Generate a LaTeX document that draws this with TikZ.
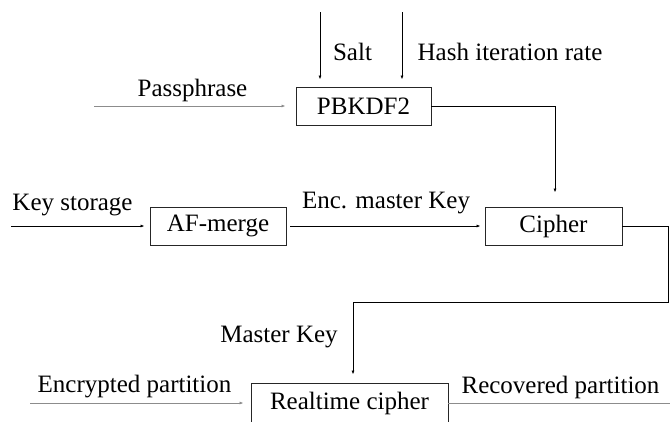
\documentclass[tikz,border=0pt]{standalone}
\usepackage{fontspec}
\setmainfont{Liberation Serif}
\usetikzlibrary{arrows.meta}
\begin{document}
\begin{tikzpicture}[x=1pt,y=-1pt,
  font=\fontsize{25}{29}\selectfont,
  box/.style={draw=black!85,line width=0.9pt,inner sep=0pt,minimum height=38pt},
  lbl/.style={inner sep=0pt},
  conn/.style={line width=0.9pt,-{Latex[length=4pt,width=3pt]}},
  light/.style={draw=black!45},
  plain/.style={line width=0.9pt}]
\useasboundingbox (0,0) rectangle (670,421);
% boxes
\node[box,minimum width=135pt] (pbkdf) at (363.5,106) {PBKDF2};
\node[box,minimum width=136pt] (afm) at (218,226) {AF-merge};
\node[box,minimum width=137pt] (ciph) at (553.5,226) {Cipher};
\node[box,minimum width=197pt,minimum height=40pt] (rt) at (349.5,403) {\raisebox{-2pt}{Realtime cipher}};
% labels
\node[lbl] (salt) at (352.5,52) {Salt};
\node[lbl] (hash) at (510,52) {Hash iteration rate};
\node[lbl] (pass) at (192.5,90) {Passphrase};
\node[lbl] (ks) at (72.5,205) {Key storage};
\node[lbl] (emk) at (386,203) {Enc. master Key};
\node[lbl] (mk) at (279,337) {Master Key};
\node[lbl] (ep) at (134.5,387) {Encrypted partition};
\node[lbl] (rp) at (560.5,387) {Recovered partition};
% free ends
\coordinate (saltin) at (320,12);
\coordinate (hashin) at (402,12);
\coordinate (passin) at (94,106);
\coordinate (ksin) at (11,226);
\coordinate (r1) at (668,302);
\coordinate (epin) at (30,403);
\coordinate (rpout) at (670,403);
% connectors
\draw[conn,shorten >=7pt] (saltin) -- (saltin |- pbkdf.north);
\draw[conn,shorten >=7pt] (hashin) -- (hashin |- pbkdf.north);
\draw[conn,light,shorten >=10pt] (passin) -- (pbkdf.west);
\draw[conn,shorten >=14pt] (pbkdf.east) -| ([xshift=1.5pt]ciph.north);
\draw[conn,shorten >=5pt] (ksin) -- (afm.west);
\draw[conn,shorten <=4pt,shorten >=4pt] (afm.east) -- (ciph.west);
\draw[conn,shorten >=8pt] (ciph.east) -| (r1) -| ([xshift=3.5pt]rt.north);
\draw[conn,light,shorten >=7pt] (epin) -- (rt.west);
\draw[plain,light] (rt.east) -- (rpout);
\end{tikzpicture}
\end{document}
